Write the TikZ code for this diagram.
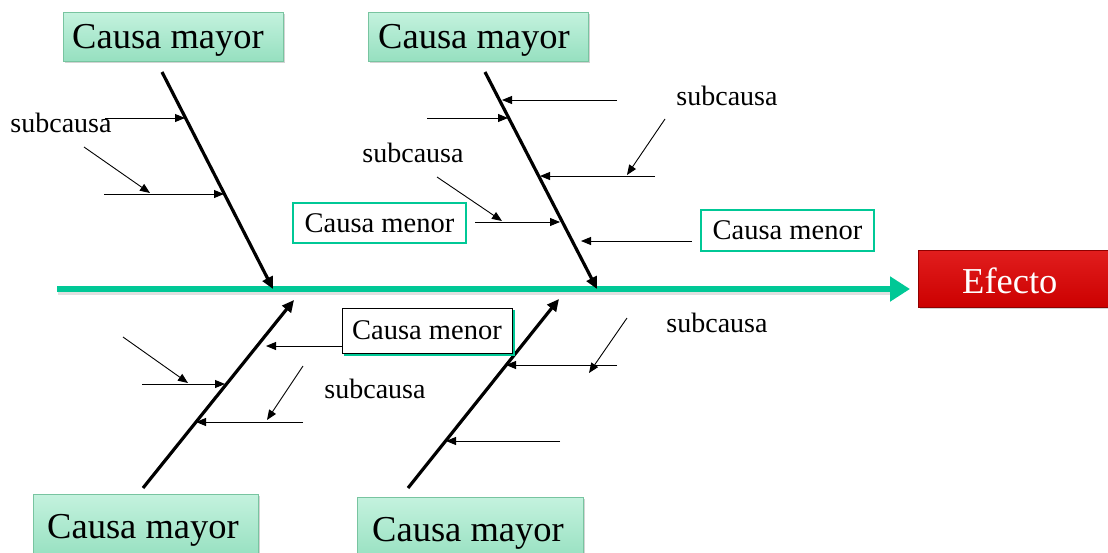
\documentclass[tikz,border=0pt]{standalone}
\usepackage{fontspec}
\setmainfont{Liberation Serif}
\usetikzlibrary{arrows.meta,shadows}
\definecolor{spinegreen}{RGB}{0,200,150}
\definecolor{mayortop}{RGB}{196,242,222}
\definecolor{mayorbot}{RGB}{150,224,192}
\definecolor{mayoredge}{RGB}{120,196,160}
\definecolor{efred}{RGB}{204,0,0}
\definecolor{efredtop}{RGB}{225,30,30}
\tikzset{
  mayor/.style={draw=mayoredge, line width=0.8pt, top color=mayortop, bottom color=mayorbot,
    drop shadow={shadow xshift=2pt, shadow yshift=-2pt, opacity=0.35},
    minimum width=220pt, minimum height=49pt, inner sep=0pt},
  bigtext/.style={inner sep=0pt, anchor=base west, font=\fontsize{36.5}{40}\selectfont},
  efecto/.style={draw=efred!70!black, line width=0.8pt, top color=efredtop, bottom color=efred,
    drop shadow={shadow xshift=2pt, shadow yshift=-2pt, opacity=0.35},
    minimum width=192pt, minimum height=57pt, inner sep=0pt},
  menor/.style={draw=spinegreen, line width=2.4pt, fill=white, inner sep=0pt,
    font=\fontsize{28.5}{32}\selectfont},
  menordark/.style={draw=black, line width=1pt, fill=white, inner sep=0pt,
    font=\fontsize{28.5}{32}\selectfont},
  sublabel/.style={inner sep=0pt, font=\fontsize{28}{32}\selectfont},
  spineline/.style={spinegreen, line width=6pt, -{Triangle[length=20pt,width=24pt]}},
  bone/.style={black, line width=3.2pt, -{Triangle[length=12pt,width=11pt]}},
  twig/.style={black, line width=0.9pt, -{Triangle[length=10pt,width=8pt]}}
}
\begin{document}
\begin{tikzpicture}[x=1pt,y=-1pt]
\useasboundingbox (0,0) rectangle (1108,552);

% major cause boxes and their captions
\node[mayor] (m1) at (173,36.5) {};
\node[mayor] (m2) at (478,36.5) {};
\node[mayor, minimum width=225pt, minimum height=64pt] (m3) at (145.5,526) {};
\node[mayor, minimum width=226pt, minimum height=64pt] (m4) at (470,529) {};
\node[bigtext] (t1) at (72,48) {Causa mayor};
\node[bigtext] (t2) at (378,48) {Causa mayor};
\node[bigtext] (t3) at (47,538) {Causa mayor};
\node[bigtext] (t4) at (372,541) {Causa mayor};

% effect box
\node[efecto] (ef) at (1014,278.5) {};
\node[bigtext, text=white] (te) at (962,293) {Efecto};

% spine
\coordinate (s0) at (57,289);
\coordinate (s1) at (910,289);
\fill[black, opacity=0.12] (58,292) rectangle (890,295);
\draw[spineline] (s0) -- (s1);

% bones
\coordinate (b1a) at (162,72);  \coordinate (b1b) at (273,289);
\coordinate (b2a) at (485,72);  \coordinate (b2b) at (597,289);
\coordinate (b3a) at (143,488); \coordinate (b3b) at (294,300);
\coordinate (b4a) at (408,488); \coordinate (b4b) at (559,299);
\draw[bone] (b1a) -- (b1b);
\draw[bone] (b2a) -- (b2b);
\draw[bone] (b3a) -- (b3b);
\draw[bone] (b4a) -- (b4b);

% minor cause boxes
\node[menor, minimum width=173pt, minimum height=40pt] (cA) at (379.5,223) {Causa menor};
\node[menor, minimum width=173pt, minimum height=41pt] (cB) at (787.5,230.5) {Causa menor};
\fill[spinegreen] (344,310) rectangle (515,356);
\node[menordark, minimum width=170pt, minimum height=45pt] (cC) at (427,330.5) {Causa menor};

% sub-cause labels
\node[sublabel] (l1) at (61,123) {subcausa};
\node[sublabel] (l2) at (727,96) {subcausa};
\node[sublabel] (l3) at (413,153) {subcausa};
\node[sublabel] (l4) at (375,389) {subcausa};
\node[sublabel] (l5) at (717,323) {subcausa};

% upper-left bone twigs
\coordinate (p1) at (105,118); \coordinate (q1) at (185,118);
\coordinate (p2) at (104,194); \coordinate (q2) at (224,194);
\coordinate (p3) at (84,147);  \coordinate (q3) at (150,193);
\draw[twig] (p1) -- (q1);
\draw[twig] (p2) -- (q2);
\draw[twig] (p3) -- (q3);

% upper-middle bone twigs
\coordinate (p4) at (617,100); \coordinate (q4) at (502,100);
\coordinate (p5) at (427,118); \coordinate (q5) at (508,118);
\coordinate (p6) at (655,176); \coordinate (q6) at (540,176);
\coordinate (p7) at (665,119); \coordinate (q7) at (627,175);
\coordinate (p8) at (437,177); \coordinate (q8) at (502,221);
\coordinate (q9) at (560,222);
\coordinate (q10) at (581,241);
\draw[twig] (p4) -- (q4);
\draw[twig] (p5) -- (q5);
\draw[twig] (p6) -- (q6);
\draw[twig] (p7) -- (q7);
\draw[twig] (p8) -- (q8);
\draw[twig] ([xshift=8pt]cA.east |- q9) -- (q9);
\draw[twig] ([xshift=-8pt]cB.west |- q10) -- (q10);

% lower-left bone twigs
\coordinate (q11) at (266,346);
\coordinate (p12) at (123,337); \coordinate (q12) at (188,383);
\coordinate (p13) at (142,384); \coordinate (q13) at (225,384);
\coordinate (p14) at (303,422); \coordinate (q14) at (196,422);
\coordinate (p15) at (303,366); \coordinate (q15) at (267,420);
\draw[twig] (cC.west |- q11) -- (q11);
\draw[twig] (p12) -- (q12);
\draw[twig] (p13) -- (q13);
\draw[twig] (p14) -- (q14);
\draw[twig] (p15) -- (q15);

% lower-middle bone twigs
\coordinate (p16) at (617,365); \coordinate (q16) at (506,365);
\coordinate (p17) at (627,318); \coordinate (q17) at (589,373);
\coordinate (p18) at (560,441); \coordinate (q18) at (446,441);
\draw[twig] (p16) -- (q16);
\draw[twig] (p17) -- (q17);
\draw[twig] (p18) -- (q18);
\end{tikzpicture}
\end{document}
